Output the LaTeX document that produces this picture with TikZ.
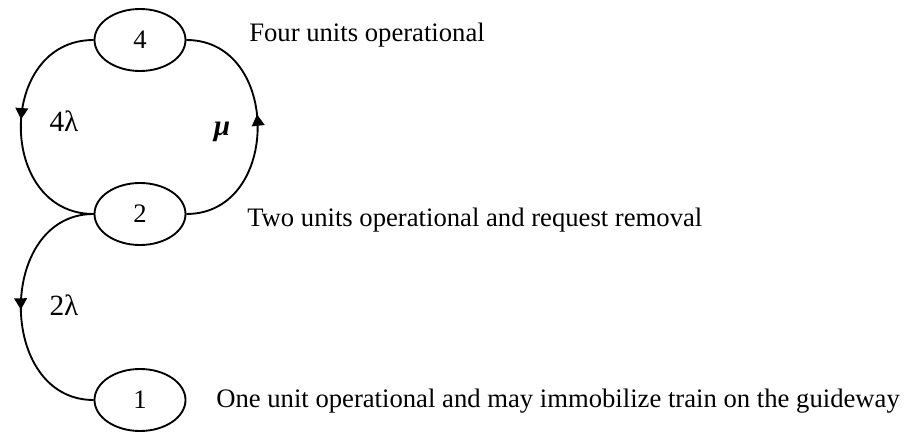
\documentclass[tikz,border=0pt]{standalone}
\usepackage{fontspec}
\setmainfont{Liberation Serif}
\usetikzlibrary{arrows.meta,shapes.geometric,decorations.markings}

\newcommand{\diagfont}{\fontsize{20}{24}\selectfont}
\newcommand{\ratefont}{\fontsize{22}{26}\selectfont}

\begin{document}
\begin{tikzpicture}[x=0.75pt,y=0.75pt,yscale=-1,
  every node/.style={font=\diagfont},
  state/.style={draw,ellipse,line width=1.4pt,minimum width=68.25pt,minimum height=46.5pt,inner sep=0pt},
  note/.style={anchor=base west,inner sep=0pt},
  rate/.style={font=\ratefont},
  link/.style={line width=1.4pt},
  midarrow/.style={postaction={decorate},decoration={markings,mark=at position #1 with {\arrow{Triangle[length=8.5pt,width=9.5pt]}}}}]
\useasboundingbox (0,0) rectangle (904,434);

%States
\node[state] (n4) at (140,40) {4};
\node[state] (n2) at (140,214) {2};
\node[state] (n1) at (140,400) {1};

%Transitions
\draw[link,midarrow=0.47] (n4.west) .. controls +(-97,0) and +(-97,0) .. (n2.west);
\draw[link,midarrow=0.55] (n2.east) .. controls +(95,0) and +(95,0) .. (n4.east);
\draw[link,midarrow=0.51] (n2.west) .. controls +(-97,0) and +(-97,0) .. (n1.west);

% Text Node
\node[rate] (lam4) at (64,121) {4λ};
% Text Node
\node[rate] (mu) at (222,132) {\textbf{\textit{μ}}};
% Text Node
\node[rate] (lam2) at (64,305) {2λ};

% Text Node
\node[note] (txt4) at (249,42) {Four units operational};
% Text Node
\node[note] (txt2) at (247,227) {Two units operational and request removal};
% Text Node
\node[note] (txt1) at (216,408) {One unit operational and may immobilize train on the guideway};

\end{tikzpicture}
\end{document}
